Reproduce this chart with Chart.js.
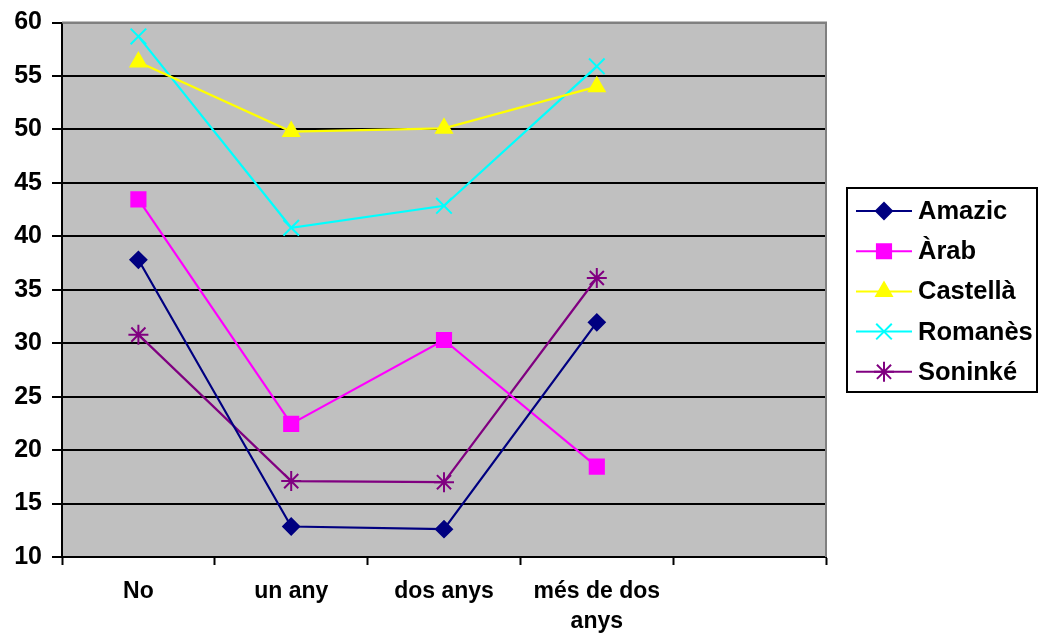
<!DOCTYPE html>
<html>
<head>
<meta charset="utf-8">
<script src="https://cdn.jsdelivr.net/npm/chart.js@4/dist/chart.umd.min.js"></script>
<style>
  html, body { margin: 0; padding: 0; background: #fff; }
  #wrap { width: 1038px; height: 637px; }
</style>
</head>
<body>
<div id="wrap"><canvas id="grafic" width="1038" height="637"></canvas></div>
<script>
// categories (the fifth slot is empty in the original)
const categories = ['No', 'un any', 'dos anys', ['més de dos', 'anys'], ''];
const yTicks = [10, 15, 20, 25, 30, 35, 40, 45, 50, 55, 60];

// values
const amazic  = [37.8, 12.85, 12.6, 31.95, null];
const arab    = [43.45, 22.45, 30.3, 18.45, null];
const castella = [56.3, 49.8, 50.1, 54.0, null];
const romanes = [58.7, 40.8, 42.85, 55.9, null];
const soninke = [30.8, 17.1, 17.0, 36.1, null];

const seriesNames = ['Amazic', 'Àrab', 'Castellà', 'Romanès', 'Soninké'];
const seriesColors = ['#000080', '#FF00FF', '#FFFF00', '#00FFFF', '#800080'];
const seriesStyles = ['rectRot', 'rect', 'triangle', 'crossRot', 'star'];
const seriesRadius = [8, 10, 9, 11, 10];
const seriesData = [amazic, arab, castella, romanes, soninke];

const FONT = "'Liberation Sans', Arial, Helvetica, sans-serif";

// grey plot background + grey top/right border
const plotBackground = {
    id: 'plotBackground',
    beforeDraw(chart) {
        const a = chart.chartArea;
        const ctx = chart.ctx;
        ctx.save();
        ctx.fillStyle = '#C0C0C0';
        ctx.fillRect(a.left, a.top, a.right - a.left, a.bottom - a.top);
        ctx.restore();
    },
    afterDatasetsDraw(chart) {
        const a = chart.chartArea;
        const ctx = chart.ctx;
        ctx.save();
        ctx.strokeStyle = '#808080';
        ctx.lineWidth = 2;
        ctx.beginPath();
        ctx.moveTo(a.left, a.top);
        ctx.lineTo(a.right, a.top);
        ctx.lineTo(a.right, a.bottom);
        ctx.stroke();
        ctx.restore();
    }
};

// legend box on the right, line + marker for each series
const boxLegend = {
    id: 'boxLegend',
    afterDraw(chart) {
        const ctx = chart.ctx;
        ctx.save();
        ctx.strokeStyle = '#000';
        ctx.lineWidth = 2;
        ctx.strokeRect(847, 188, 190, 204);
        for (let i = 0; i < seriesNames.length; i++) {
            const cy = 211 + i * 40.2;
            ctx.strokeStyle = seriesColors[i];
            ctx.fillStyle = seriesColors[i];
            ctx.lineWidth = 2;
            ctx.beginPath();
            ctx.moveTo(856, cy);
            ctx.lineTo(912, cy);
            ctx.stroke();
            Chart.helpers.drawPoint(ctx, {
                pointStyle: seriesStyles[i],
                radius: seriesRadius[i],
                rotation: 0,
                borderWidth: 2
            }, 884, cy);
            ctx.fillStyle = '#000';
            ctx.font = 'bold 25.5px ' + FONT;
            ctx.textBaseline = 'middle';
            ctx.textAlign = 'left';
            ctx.fillText(seriesNames[i], 918, cy + 1);
        }
        ctx.restore();
    }
};

const datasets = seriesNames.map(function (name, i) {
    return {
        label: name,
        data: seriesData[i],
        borderColor: seriesColors[i],
        backgroundColor: seriesColors[i],
        borderWidth: 2.2,
        pointStyle: seriesStyles[i],
        pointRadius: seriesRadius[i],
        pointBorderWidth: 2,
        pointBackgroundColor: seriesColors[i],
        pointBorderColor: seriesColors[i],
        tension: 0
    };
});

var ctx = document.getElementById('grafic').getContext('2d');

var chart = new Chart(ctx, {
    type: 'line',
    data: {
        labels: categories,
        datasets: datasets
    },
    options: {
        responsive: false,
        animation: false,
        layout: {
            padding: { top: 14, right: 212, bottom: 0, left: 0 }
        },
        plugins: {
            legend: { display: false },
            tooltip: { enabled: false }
        },
        scales: {
            x: {
                offset: true,
                grid: {
                    offset: true,
                    drawOnChartArea: false,
                    drawTicks: true,
                    tickLength: 8,
                    tickColor: '#000',
                    tickWidth: 2
                },
                border: { color: '#000', width: 2 },
                ticks: {
                    color: '#000',
                    padding: 12,
                    autoSkip: false,
                    maxRotation: 0,
                    font: { family: FONT, size: 23, weight: 'bold', lineHeight: 1.3 }
                },
                afterFit(scale) { scale.height = 80; }
            },
            y: {
                min: 10,
                max: 60,
                afterBuildTicks(scale) {
                    scale.ticks = yTicks.map(function (v) { return { value: v }; });
                },
                grid: {
                    color: function (c) { return c.tick && c.tick.value === 60 ? '#808080' : '#000'; },
                    lineWidth: 2,
                    tickLength: 10,
                    tickColor: '#000',
                    tickWidth: 2
                },
                border: { color: '#000', width: 2 },
                ticks: {
                    color: '#000',
                    padding: 10,
                    font: { family: FONT, size: 25, weight: 'bold', lineHeight: 1 }
                },
                afterFit(scale) { scale.width = 62; }
            }
        }
    },
    plugins: [plotBackground, boxLegend]
});
</script>
</body>
</html>
